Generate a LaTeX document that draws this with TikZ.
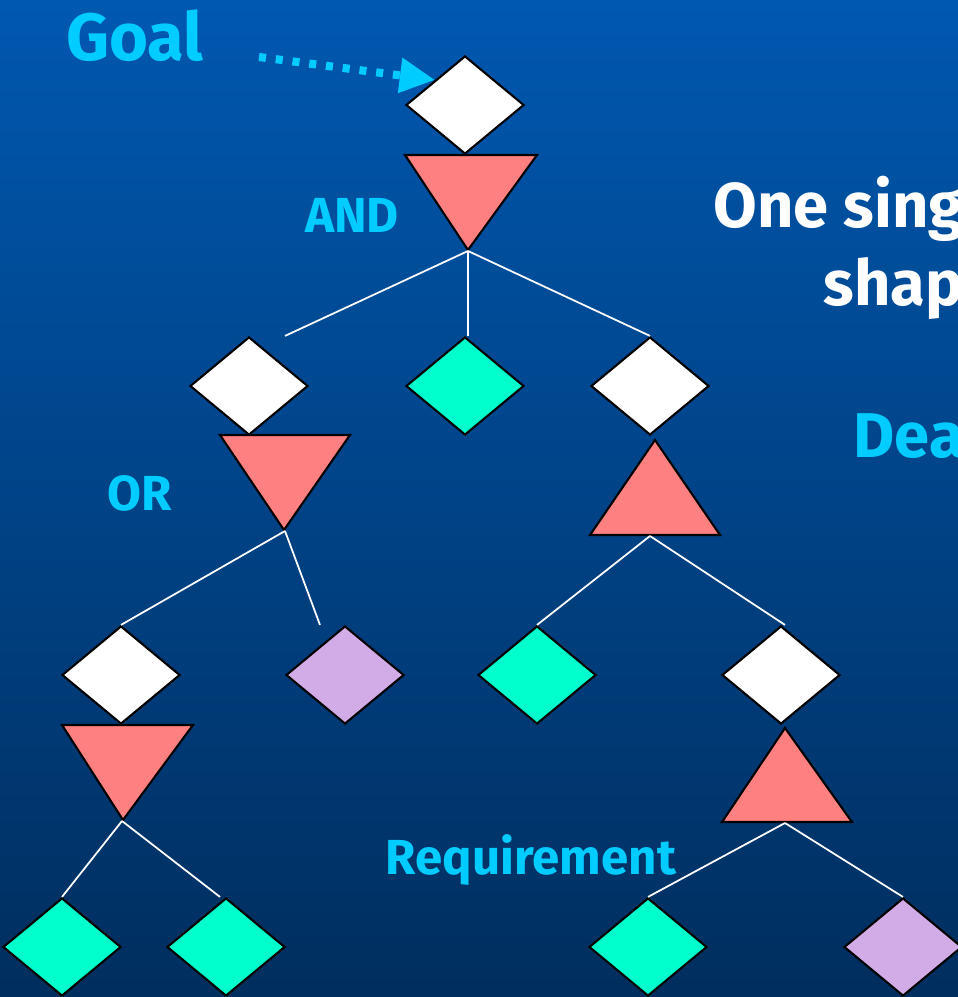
\documentclass[tikz,border=0pt]{standalone}
\usepackage{fontspec}
\setmainfont{Fira Sans}
\usetikzlibrary{shapes.geometric,arrows.meta}

\definecolor{slidetop}{RGB}{0,88,176}
\definecolor{slidebottom}{RGB}{0,46,94}
\definecolor{gatered}{RGB}{255,128,128}
\definecolor{leafgreen}{RGB}{0,255,204}
\definecolor{leafpurple}{RGB}{210,172,230}
\definecolor{labelcyan}{RGB}{0,204,255}

\tikzset{
  goalbox/.style={diamond, draw=black, line width=0.6pt, inner sep=0pt,
    minimum width=1.18cm, minimum height=0.98cm, fill=white},
  leafbox/.style={goalbox, fill=leafgreen},
  obstbox/.style={goalbox, fill=leafpurple},
  gate/.style={draw=black, line width=0.6pt, fill=gatered},
  link/.style={white, line width=0.5pt},
  tag/.style={text=labelcyan, font=\bfseries\fontsize{14}{16}\selectfont},
  headline/.style={text=white, anchor=base west, inner sep=0pt,
    font=\bfseries\fontsize{18}{21}\selectfont},
}

\begin{document}
\begin{tikzpicture}[x=0.01cm, y=-0.01cm]
  % slide background
  \shade[top color=slidetop, bottom color=slidebottom] (0,0) rectangle (958,997);
  \useasboundingbox (0,0) rectangle (958,997);
  \clip (0,0) rectangle (958,997);

  % the goal on top
  \node[goalbox] (top) at (465,105) {};
  \node[tag, font=\bfseries\fontsize{19}{22}\selectfont] (goal) at (135,36) {Goal};
  \coordinate (goaltail) at (259,57);
  \draw[labelcyan, line width=2.3pt, dash pattern=on 2pt off 2.8pt,
    -{Triangle[length=10pt, width=9.5pt]}] (goaltail) -- (top.north west);

  % AND gate
  \draw[gate] (405,155) -- (537,155) -- (468,250) -- cycle;
  \coordinate (andgate) at (468,251);
  \node[tag] (andlabel) at (352,215) {AND};

  % first level
  \node[goalbox] (left) at (249,386) {};
  \node[leafbox] (mid) at (465,386) {};
  \node[goalbox] (right) at (650,386) {};
  \draw[link] (andgate) -- ([xshift=0.36cm]left.north);
  \draw[link] (andgate) -- ([xshift=0.03cm]mid.north);
  \draw[link] (andgate) -- (right.north);

  % OR gate under the left goal
  \draw[gate] (220,435) -- (350,435) -- (284,530) -- cycle;
  \coordinate (orgate) at (285,531);
  \node[tag] (orlabel) at (140,493) {OR};

  \node[goalbox] (leftleft) at (121,675) {};
  \node[obstbox] (leftobst) at (345,675) {};
  \draw[link] (orgate) -- (leftleft.north);
  \draw[link] (orgate) -- ([xshift=-0.25cm]leftobst.north);

  % gate under the lower left goal
  \draw[gate] (62,725) -- (193,725) -- (123,820) -- cycle;
  \coordinate (orgatelow) at (122,821);
  \node[leafbox] (leafa) at (62,947) {};
  \node[leafbox] (leafb) at (226,947) {};
  \draw[link] (orgatelow) -- (leafa.north);
  \draw[link] (orgatelow) -- ([xshift=-0.06cm]leafb.north);

  % upward gate under the right goal
  \draw[gate] (590,535) -- (720,535) -- (655,440) -- cycle;
  \coordinate (upgate) at (650,536);
  \node[leafbox] (rightleaf) at (537,675) {};
  \node[goalbox] (rightgoal) at (781,675) {};
  \draw[link] (upgate) -- (rightleaf.north);
  \draw[link] (upgate) -- ([xshift=0.04cm]rightgoal.north);

  % upward gate under the lower right goal
  \draw[gate] (722,822) -- (852,822) -- (785,728) -- cycle;
  \coordinate (upgatelow) at (785,823);
  \node[leafbox] (leafc) at (648,947) {};
  \node[obstbox] (rightobst) at (903,947) {};
  \draw[link] (upgatelow) -- (leafc.north);
  \draw[link] (upgatelow) -- (rightobst.north);
  \node[tag] (reqlabel) at (531,860) {Requirement};

  % text at the right side, cut by the slide edge
  \node[headline] (line1) at (713,228) {One sing};
  \node[headline] (line2) at (823,305) {shap};
  \node[headline, text=labelcyan] (line3) at (853,457) {Dea};
\end{tikzpicture}
\end{document}
